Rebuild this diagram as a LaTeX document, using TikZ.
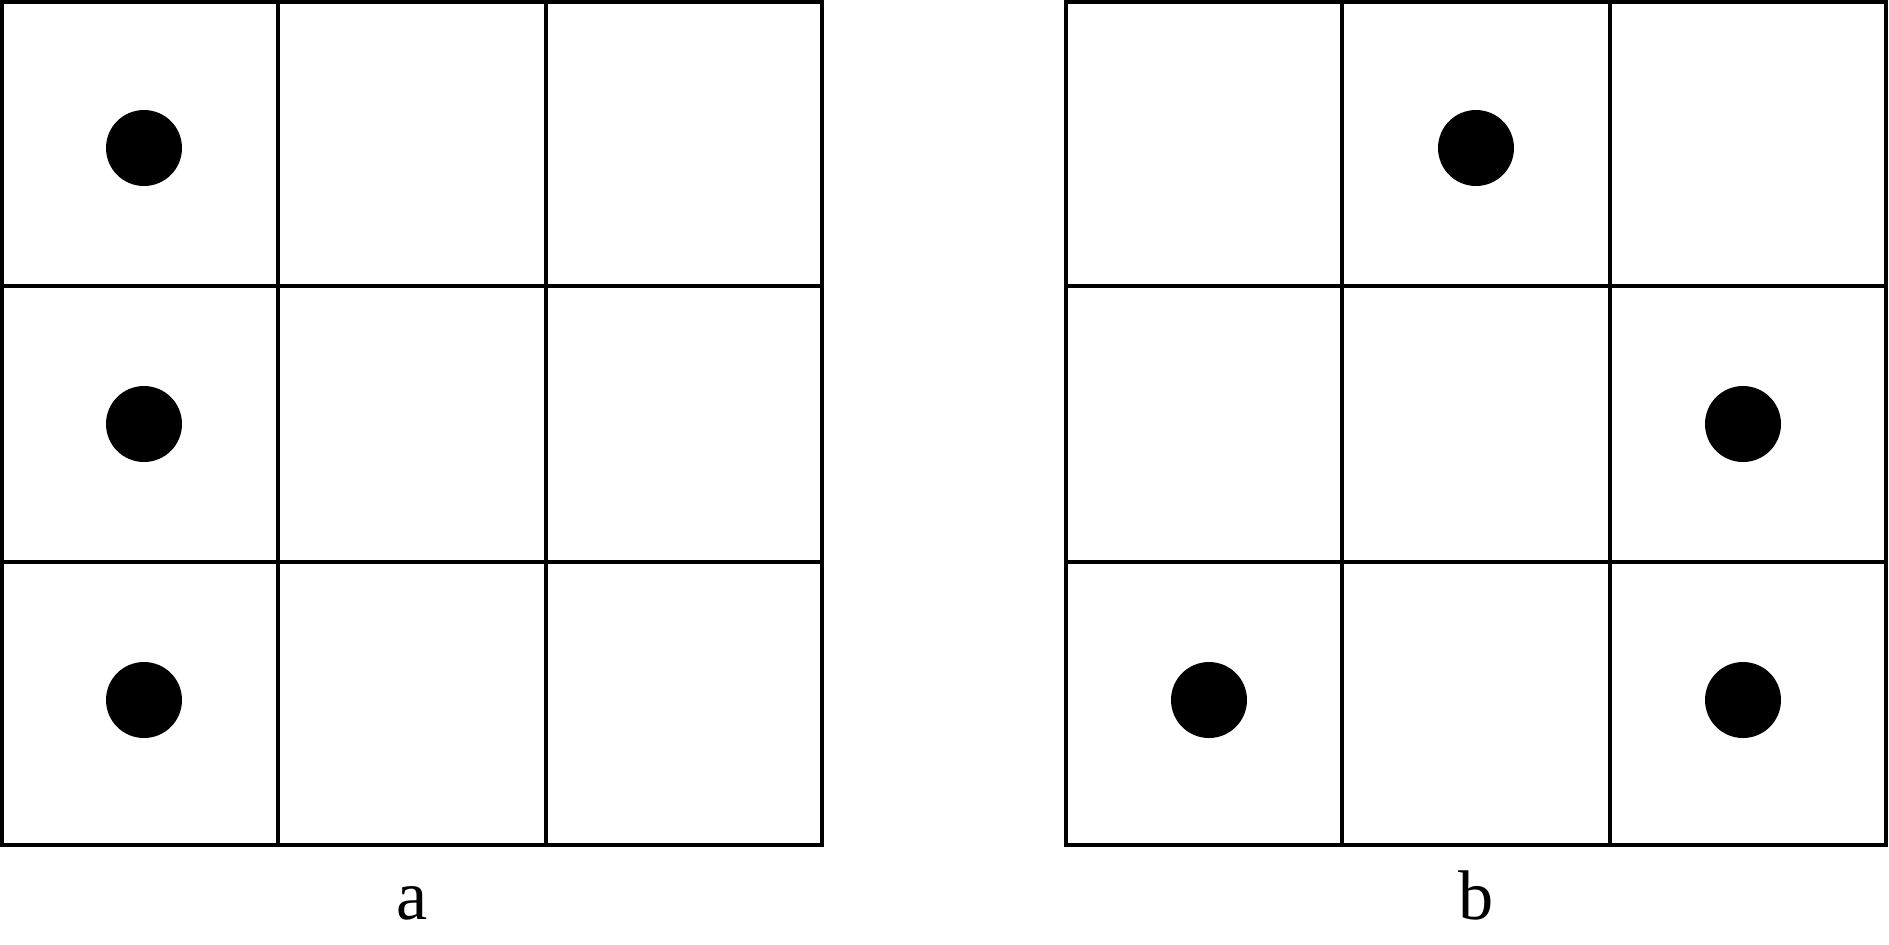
\documentclass[tikz,border=0pt]{standalone}
\usepackage{fontspec}
\setmainfont{Liberation Serif}

\begin{document}
\begin{tikzpicture}[x=0.005cm,y=-0.005cm,
  gridline/.style={line width=0.02cm},
  dot/.style={fill=black}]
  \useasboundingbox (0,0) rectangle (1889,944);
  % grid a
  \draw[gridline] (2,2) rectangle (822,845);
  \draw[gridline] (278,2) -- (278,845);
  \draw[gridline] (546,2) -- (546,845);
  \draw[gridline] (2,286) -- (822,286);
  \draw[gridline] (2,562) -- (822,562);
  \fill[dot] (144,148) circle (38);
  \fill[dot] (144,424) circle (38);
  \fill[dot] (144,700) circle (38);
  \node[anchor=base] (labela) at (412,919) {a};
  % grid b
  \draw[gridline] (1066,2) rectangle (1886,845);
  \draw[gridline] (1342,2) -- (1342,845);
  \draw[gridline] (1610,2) -- (1610,845);
  \draw[gridline] (1066,286) -- (1886,286);
  \draw[gridline] (1066,562) -- (1886,562);
  \fill[dot] (1476,148) circle (38);
  \fill[dot] (1743,424) circle (38);
  \fill[dot] (1209,700) circle (38);
  \fill[dot] (1743,700) circle (38);
  \node[anchor=base] (labelb) at (1476,919) {b};
\end{tikzpicture}
\end{document}
